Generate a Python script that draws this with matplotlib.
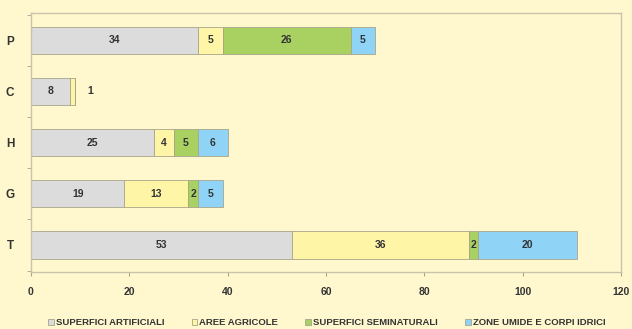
import numpy as np
import matplotlib.pyplot as plt

categories = ["T", "G", "H", "C", "P"]
series_names = ["SUPERFICI ARTIFICIALI", "AREE AGRICOLE", "SUPERFICI SEMINATURALI",
                "ZONE UMIDE E CORPI IDRICI"]
artificiali = [53, 19, 25, 8, 34]
agricole = [36, 13, 4, 1, 5]
seminaturali = [2, 2, 5, 0, 26]
umide = [20, 5, 6, 0, 5]
colors = ["#dcdcdc", "#fff5a6", "#a8d162", "#8fd4f7"]

bg = "#fff8cf"
plt.rcParams["font.family"] = ["Liberation Sans", "DejaVu Sans"]

fig = plt.figure(figsize=(6.32, 3.29), dpi=100, facecolor=bg)
ax = fig.add_axes([0.049, 0.173, 0.9335, 0.7875], facecolor=bg)

y = np.arange(len(categories))
left = np.zeros(len(categories))
for name, vals, col in zip(series_names, [artificiali, agricole, seminaturali, umide], colors):
    vals = np.array(vals, dtype=float)
    ax.barh(y, vals, left=left, height=0.53, color=col, edgecolor="#a8a48a",
            linewidth=0.6, label=name)
    for yi, l, v in zip(y, left, vals):
        if v <= 0:
            continue
        if categories[yi] == "C" and name == "AREE AGRICOLE":
            ax.text(l + v + 3, yi, f"{int(v)}", ha="center", va="center",
                    fontsize=7.5, fontweight="bold", color="#333333")
        else:
            ax.text(l + v / 2, yi, f"{int(v)}", ha="center", va="center",
                    fontsize=7.5, fontweight="bold", color="#333333")
    left += vals

ax.set_xlim(0, 120)
ax.set_ylim(-0.53, 4.53)
ax.set_xticks(range(0, 121, 20))
ax.set_yticks(y)
ax.set_yticklabels(categories, fontweight="bold", fontsize=8.5, color="#333333")
ax.set_yticks(np.arange(-0.5, 4.6, 1), minor=True)
ax.tick_params(axis="y", which="major", length=0, pad=12)
ax.tick_params(axis="y", which="minor", length=3, color="#a8a48a")
ax.tick_params(axis="x", length=3, color="#a8a48a", labelsize=7.5, labelcolor="#333333", pad=8)
for lab in ax.get_xticklabels():
    lab.set_fontweight("bold")
for s in ax.spines.values():
    s.set_color("#c8c4aa")
    s.set_linewidth(1.0)

leg = fig.legend(loc="lower center", bbox_to_anchor=(0.517, -0.02), ncol=4, frameon=False,
                 handlelength=0.6, handleheight=0.6, handletextpad=0.2,
                 columnspacing=2.9, prop={"weight": "bold", "size": 6.8})
for t in leg.get_texts():
    t.set_color("#333333")

fig.savefig("out.png", dpi=100, facecolor=bg)
